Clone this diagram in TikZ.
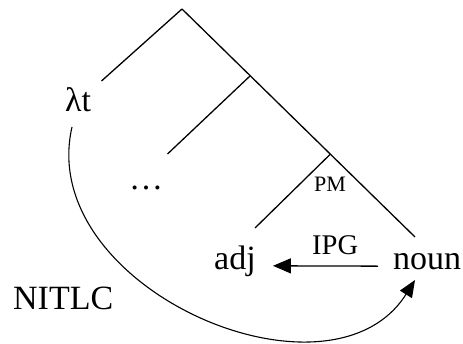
\documentclass[tikz,border=0pt]{standalone}
\usepackage{fontspec}
\setmainfont{Liberation Serif}
\usetikzlibrary{arrows.meta}
\begin{document}
\begin{tikzpicture}[x=1pt,y=-1pt,
  branch/.style={line width=1.3pt},
  word/.style={inner sep=0pt,anchor=base west,font=\fontsize{34}{40}\selectfont},
  lab/.style={inner sep=0pt,anchor=base west},
  rel/.style={line width=1.3pt,-{Triangle[length=18pt,width=15pt]}},
  arc/.style={line width=1.1pt,-{Triangle[length=17pt,width=14pt]}}]
\useasboundingbox (0,0) rectangle (463,344);
% tree coordinates
\coordinate (top) at (182,9);
\coordinate (rend) at (415,237);
\coordinate (n1) at (250,76);
\coordinate (n2) at (330,154.5);
\coordinate (l1) at (101.5,81);
\coordinate (n1l) at (167.5,154);
\coordinate (n2l) at (255,228);
\draw[branch] (top) -- (rend);
\draw[branch] (top) -- (l1);
\draw[branch] (n1) -- (n1l);
\draw[branch] (n2) -- (n2l);
% texts
\node[word] (lambda) at (65,112) {λt};
\node[word] (dots) at (129,190) {…};
\node[lab,font=\fontsize{22}{26}\selectfont] (pm) at (314,192) {PM};
\node[word] (adj) at (214,270) {adj};
\node[word] (noun) at (393,270) {noun};
\node[lab,font=\fontsize{28.5}{32}\selectfont] (ipg) at (312,255) {IPG};
\node[word] (nitlc) at (13,310) {NITLC};
% IPG arrow
\draw[rel] ([xshift=-15pt,yshift=-4pt]noun.west) -- ([xshift=17pt,yshift=-4pt]adj.east);
% NITLC arc
\coordinate (cstart) at (72,127);
\coordinate (ctip) at (415,280);
\draw[arc] (cstart) .. controls (35,288) and (330,415) .. (ctip);
\end{tikzpicture}
\end{document}
